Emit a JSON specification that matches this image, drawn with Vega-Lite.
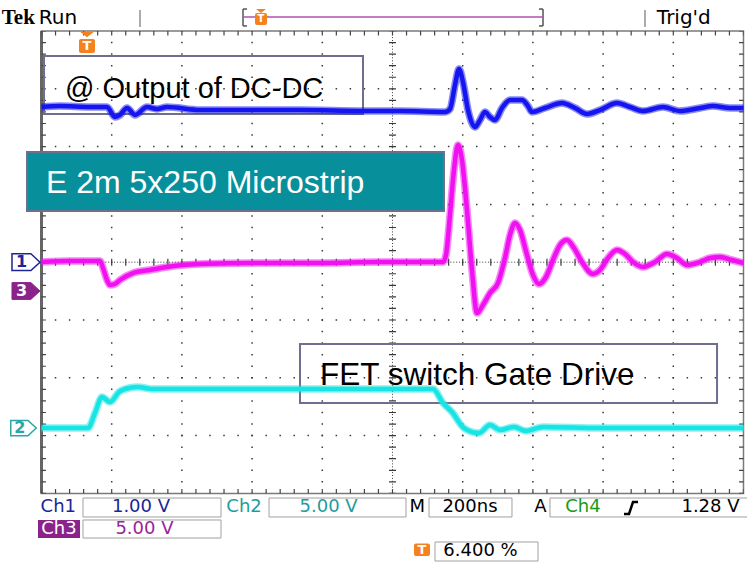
{
"$schema": "https://vega.github.io/schema/vega-lite/v6.json",
"width": 747, "height": 562,
"autosize": {"type": "none"},
"padding": 0,
"background": "white",
"config": {"view": {"stroke": null}},
"datasets": {
"traces": [
{"ch":"blue","t":0,"v":2.685},{"ch":"blue","t":52.7,"v":2.702},{"ch":"blue","t":138.2,"v":2.685},{"ch":"blue","t":186.6,"v":2.685},{"ch":"blue","t":209.4,"v":2.512},{"ch":"blue","t":223.6,"v":2.547},{"ch":"blue","t":243.6,"v":2.668},{"ch":"blue","t":266.4,"v":2.547},{"ch":"blue","t":300.6,"v":2.685},{"ch":"blue","t":329.1,"v":2.651},{"ch":"blue","t":357.5,"v":2.685},{"ch":"blue","t":451.6,"v":2.633},{"ch":"blue","t":594.0,"v":2.633},{"ch":"blue","t":736.5,"v":2.633},{"ch":"blue","t":916.0,"v":2.616},{"ch":"blue","t":1021.4,"v":2.616},{"ch":"blue","t":1149.6,"v":2.599},{"ch":"blue","t":1163.8,"v":2.651},{"ch":"blue","t":1178.1,"v":3.066},{"ch":"blue","t":1189.5,"v":3.343},{"ch":"blue","t":1200.8,"v":3.118},{"ch":"blue","t":1215.1,"v":2.633},{"ch":"blue","t":1235.0,"v":2.339},{"ch":"blue","t":1249.3,"v":2.46},{"ch":"blue","t":1263.5,"v":2.599},{"ch":"blue","t":1277.8,"v":2.512},{"ch":"blue","t":1292.0,"v":2.46},{"ch":"blue","t":1312.0,"v":2.668},{"ch":"blue","t":1334.8,"v":2.806},{"ch":"blue","t":1368.9,"v":2.806},{"ch":"blue","t":1386.0,"v":2.702},{"ch":"blue","t":1397.4,"v":2.599},{"ch":"blue","t":1434.5,"v":2.668},{"ch":"blue","t":1482.9,"v":2.754},{"ch":"blue","t":1520.0,"v":2.668},{"ch":"blue","t":1554.1,"v":2.564},{"ch":"blue","t":1591.2,"v":2.633},{"ch":"blue","t":1639.6,"v":2.754},{"ch":"blue","t":1676.6,"v":2.685},{"ch":"blue","t":1713.7,"v":2.616},{"ch":"blue","t":1770.7,"v":2.685},{"ch":"blue","t":1819.1,"v":2.616},{"ch":"blue","t":1876.1,"v":2.668},{"ch":"blue","t":1913.1,"v":2.702},{"ch":"blue","t":1961.5,"v":2.668},{"ch":"blue","t":2000,"v":2.668},
{"ch":"mag","t":0,"v":0.003},{"ch":"mag","t":81.2,"v":0.021},{"ch":"mag","t":166.7,"v":0.021},{"ch":"mag","t":175.2,"v":-0.1},{"ch":"mag","t":186.6,"v":-0.308},{"ch":"mag","t":195.2,"v":-0.394},{"ch":"mag","t":209.4,"v":-0.377},{"ch":"mag","t":223.6,"v":-0.308},{"ch":"mag","t":260.7,"v":-0.187},{"ch":"mag","t":309.1,"v":-0.135},{"ch":"mag","t":357.5,"v":-0.083},{"ch":"mag","t":403.1,"v":-0.048},{"ch":"mag","t":451.6,"v":-0.031},{"ch":"mag","t":622.5,"v":-0.014},{"ch":"mag","t":793.4,"v":-0.014},{"ch":"mag","t":964.4,"v":0.003},{"ch":"mag","t":1143.9,"v":0.003},{"ch":"mag","t":1152.4,"v":0.125},{"ch":"mag","t":1163.8,"v":0.817},{"ch":"mag","t":1175.2,"v":1.595},{"ch":"mag","t":1186.6,"v":2.028},{"ch":"mag","t":1198.0,"v":1.768},{"ch":"mag","t":1212.2,"v":0.903},{"ch":"mag","t":1226.5,"v":-0.135},{"ch":"mag","t":1240.7,"v":-0.879},{"ch":"mag","t":1257.8,"v":-0.74},{"ch":"mag","t":1277.8,"v":-0.533},{"ch":"mag","t":1300.6,"v":-0.36},{"ch":"mag","t":1320.5,"v":0.073},{"ch":"mag","t":1334.8,"v":0.471},{"ch":"mag","t":1349.0,"v":0.678},{"ch":"mag","t":1363.3,"v":0.557},{"ch":"mag","t":1383.2,"v":0.125},{"ch":"mag","t":1400.3,"v":-0.221},{"ch":"mag","t":1417.4,"v":-0.377},{"ch":"mag","t":1437.3,"v":-0.256},{"ch":"mag","t":1457.3,"v":0.038},{"ch":"mag","t":1477.2,"v":0.298},{"ch":"mag","t":1497.1,"v":0.384},{"ch":"mag","t":1517.1,"v":0.246},{"ch":"mag","t":1539.9,"v":0.003},{"ch":"mag","t":1571.2,"v":-0.204},{"ch":"mag","t":1591.2,"v":-0.135},{"ch":"mag","t":1614.0,"v":0.073},{"ch":"mag","t":1639.6,"v":0.211},{"ch":"mag","t":1662.4,"v":0.142},{"ch":"mag","t":1685.2,"v":0.003},{"ch":"mag","t":1713.7,"v":-0.083},{"ch":"mag","t":1747.9,"v":0.003},{"ch":"mag","t":1782.0,"v":0.142},{"ch":"mag","t":1810.5,"v":0.073},{"ch":"mag","t":1839.0,"v":-0.048},{"ch":"mag","t":1876.1,"v":0.003},{"ch":"mag","t":1904.6,"v":0.073},{"ch":"mag","t":1933.0,"v":0.09},{"ch":"mag","t":1967.2,"v":0.038},{"ch":"mag","t":2000,"v":-0.014},
{"ch":"cyan","t":0,"v":-2.869},{"ch":"cyan","t":132.5,"v":-2.869},{"ch":"cyan","t":152.4,"v":-2.609},{"ch":"cyan","t":172.4,"v":-2.332},{"ch":"cyan","t":195.2,"v":-2.419},{"ch":"cyan","t":220.8,"v":-2.246},{"ch":"cyan","t":249.3,"v":-2.176},{"ch":"cyan","t":274.9,"v":-2.159},{"ch":"cyan","t":314.8,"v":-2.194},{"ch":"cyan","t":451.6,"v":-2.194},{"ch":"cyan","t":736.5,"v":-2.194},{"ch":"cyan","t":1115.4,"v":-2.194},{"ch":"cyan","t":1143.9,"v":-2.436},{"ch":"cyan","t":1169.5,"v":-2.592},{"ch":"cyan","t":1203.7,"v":-2.869},{"ch":"cyan","t":1246.4,"v":-2.955},{"ch":"cyan","t":1277.8,"v":-2.817},{"ch":"cyan","t":1306.3,"v":-2.903},{"ch":"cyan","t":1346.2,"v":-2.851},{"ch":"cyan","t":1380.3,"v":-2.92},{"ch":"cyan","t":1428.8,"v":-2.851},{"ch":"cyan","t":1591.2,"v":-2.869},{"ch":"cyan","t":2000,"v":-2.869}
],
"gridV": [{"t":200,"v":-4,"v2":4},{"t":400,"v":-4,"v2":4},{"t":600,"v":-4,"v2":4},{"t":800,"v":-4,"v2":4},{"t":1200,"v":-4,"v2":4},{"t":1400,"v":-4,"v2":4},{"t":1600,"v":-4,"v2":4},{"t":1800,"v":-4,"v2":4}],
"gridH": [{"t":0,"t2":2000,"v":-3},{"t":0,"t2":2000,"v":-2},{"t":0,"t2":2000,"v":-1},{"t":0,"t2":2000,"v":1},{"t":0,"t2":2000,"v":2},{"t":0,"t2":2000,"v":3}],
"centerV": [{"t":1000,"v":-4,"v2":4}],
"centerH": [{"t":0,"t2":2000,"v":0}],
"frame": [{"t":0,"t2":2000,"v":-4,"v2":4}],
"frameL": [{"t":0,"v":-4,"v2":4}],
"edgeH": [{"t":0,"t2":2000,"v":3.962},{"t":0,"t2":2000,"v":-3.962}],
"edgeV": [{"t":6.27,"v":-4,"v2":4},{"t":1993.7,"v":-4,"v2":4}],
"boxOpen": [{"t":7.1,"t2":916.0,"v":3.567,"v2":2.564},{"t":736.5,"t2":1924.6,"v":-1.415,"v2":-2.436}],
"boxTeal": [{"t":-41.3,"t2":1146.7,"v":1.907,"v2":0.886}],
"lblDC": [{"t":67.0,"v":2.841,"label":"@ Output of DC-DC"}],
"lblFET": [{"t":793.4,"v":-2.125,"label":"FET switch Gate Drive"}],
"lblMS": [{"t":12.8,"v":1.197,"label":"E 2m 5x250 Microstrip"}],
"hdrTek": [{"t":-66.0,"v":4.121,"label":"Tek"}],
"hdrText": [{"t":47.0,"v":4.121,"label":"Run"},{"t":1830.0,"v":4.121,"label":"Trig'd"}],
"hdrSep": [{"t":280.6,"v":4.363,"v2":4.069},{"t":1719.4,"v":4.363,"v2":4.069}],
"hdrBracket": [{"t":574.1,"v":4.38,"v2":4.087},{"t":1428.8,"v":4.38,"v2":4.087}],
"hdrSerif": [{"t":574.1,"t2":585.5,"v":4.38},{"t":574.1,"t2":585.5,"v":4.087},{"t":1417.4,"t2":1428.8,"v":4.38},{"t":1417.4,"t2":1428.8,"v":4.087}],
"hdrLine": [{"t":574.1,"t2":1428.8,"v":4.242}],
"tBody": [{"t":608.3,"t2":642.5,"v":4.311,"v2":4.104},{"t":106.8,"t2":152.4,"v":3.862,"v2":3.619},{"t":1061.2,"t2":1106.8,"v":-4.866,"v2":-5.083}],
"tTriSmall": [{"t":625.4,"v":4.346}],
"tTriBig": [{"t":129.6,"v":3.939}],
"tGlyphSmall": [{"t":625.4,"v":4.208,"label":"T"}],
"tGlyph": [{"t":129.6,"v":3.74,"label":"T"},{"t":1084.0,"v":-4.975,"label":"T"}],
"mk1": [{"t":-44.2,"v":0.0}],
"mk3": [{"t":-44.2,"v":-0.498}],
"mk2": [{"t":-51.3,"v":-2.869}],
"mk1t": [{"t":-57.0,"v":0.0,"label":"1"}],
"mk3t": [{"t":-57.0,"v":-0.498,"label":"3"}],
"mk2t": [{"t":-62.0,"v":-2.869,"label":"2"}],
"ftBox": [{"t":118.2,"t2":511.4,"v":-4.08,"v2":-4.408},{"t":648.2,"t2":1038.5,"v":-4.08,"v2":-4.408},{"t":1104.0,"t2":1340.4,"v":-4.08,"v2":-4.408},{"t":1448.7,"t2":2030,"v":-4.08,"v2":-4.408},{"t":118.2,"t2":511.4,"v":-4.46,"v2":-4.772},{"t":1121.1,"t2":1414.5,"v":-4.841,"v2":-5.17}],
"ftCh3Box": [{"t":-10.0,"t2":109.7,"v":-4.46,"v2":-4.772}],
"ftNavy": [{"t":47.9,"v":-4.235,"label":"Ch1"},{"t":283.5,"v":-4.235,"label":"1.00 V"}],
"ftTeal": [{"t":577.0,"v":-4.235,"label":"Ch2"},{"t":817.9,"v":-4.235,"label":"5.00 V"}],
"ftBlack": [{"t":1070.9,"v":-4.235,"label":"M"},{"t":1220.8,"v":-4.235,"label":"200ns"},{"t":1421.6,"v":-4.235,"label":"A"},{"t":1906.0,"v":-4.235,"label":"1.28 V"},{"t":1250.7,"v":-4.997,"label":"6.400 %"}],
"ftGreen": [{"t":1542.4,"v":-4.235,"label":"Ch4"}],
"ftWhite": [{"t":49.9,"v":-4.616,"label":"Ch3"}],
"ftPurple": [{"t":293.4,"v":-4.616,"label":"5.00 V"}],
"ftEdge": [{"t":1659.5,"v":-4.356},{"t":1673.8,"v":-4.356},{"t":1685.2,"v":-4.149},{"t":1699.5,"v":-4.149}]
},
"encoding": {
"x": {"field": "t", "type": "quantitative", "scale": {"domain": [-118.234, 2009.972], "nice": false, "zero": false}, "axis": null},
"y": {"field": "v", "type": "quantitative", "scale": {"domain": [-5.18685, 4.53633], "nice": false, "zero": false}, "axis": null}
},
"layer": [
{"data": {"name": "gridV"}, "mark": {"type": "rule", "color": "#3a3a3a", "strokeWidth": 1.5, "strokeDash": [1.5, 10.06], "strokeDashOffset": 0.75}, "encoding": {"y2": {"field": "v2"}}},
{"data": {"name": "gridH"}, "mark": {"type": "rule", "color": "#3a3a3a", "strokeWidth": 1.5, "strokeDash": [1.5, 12.54], "strokeDashOffset": 0.75}, "encoding": {"x2": {"field": "t2"}}},
{"data": {"name": "centerV"}, "mark": {"type": "rule", "color": "#3a3a3a", "strokeWidth": 1, "strokeDash": [1, 1.9]}, "encoding": {"y2": {"field": "v2"}}},
{"data": {"name": "centerH"}, "mark": {"type": "rule", "color": "#3a3a3a", "strokeWidth": 1, "strokeDash": [1, 1.9]}, "encoding": {"x2": {"field": "t2"}}},
{"data": {"name": "centerV"}, "mark": {"type": "rule", "color": "#3a3a3a", "strokeWidth": 7, "strokeDash": [1.2, 10.36], "strokeDashOffset": 0.6}, "encoding": {"y2": {"field": "v2"}}},
{"data": {"name": "centerH"}, "mark": {"type": "rule", "color": "#3a3a3a", "strokeWidth": 7, "strokeDash": [1.2, 12.84], "strokeDashOffset": 0.6}, "encoding": {"x2": {"field": "t2"}}},
{"data": {"name": "frame"}, "mark": {"type": "rect", "fill": "white", "fillOpacity": 0, "stroke": "#7a7a7a", "strokeWidth": 1.5}, "encoding": {"x2": {"field": "t2"}, "y2": {"field": "v2"}}},
{"data": {"name": "frameL"}, "mark": {"type": "rule", "color": "#666666", "strokeWidth": 3}, "encoding": {"y2": {"field": "v2"}}},
{"data": {"name": "edgeH"}, "mark": {"type": "rule", "color": "#444444", "strokeWidth": 4.5, "strokeDash": [1.2, 12.84], "strokeDashOffset": 0.6}, "encoding": {"x2": {"field": "t2"}}},
{"data": {"name": "edgeV"}, "mark": {"type": "rule", "color": "#444444", "strokeWidth": 4.5, "strokeDash": [1.2, 10.36], "strokeDashOffset": 0.6}, "encoding": {"y2": {"field": "v2"}}},
{"data": {"name": "boxOpen"}, "mark": {"type": "rect", "fill": "white", "fillOpacity": 0, "stroke": "#6e6e8e", "strokeWidth": 2}, "encoding": {"x2": {"field": "t2"}, "y2": {"field": "v2"}}},
{"data": {"name": "boxTeal"}, "mark": {"type": "rect", "fill": "#07909b", "stroke": "#6e6e8e", "strokeWidth": 2}, "encoding": {"x2": {"field": "t2"}, "y2": {"field": "v2"}}},
{"data": {"name": "traces"}, "mark": {"type": "line", "strokeWidth": 7.5, "opacity": 0.5, "interpolate": "monotone"}, "encoding": {"color": {"field": "ch", "type": "nominal", "scale": {"domain": ["blue", "mag", "cyan"], "range": ["#1515f0", "#f010f0", "#18e4e4"]}, "legend": null}}},
{"data": {"name": "traces"}, "mark": {"type": "line", "strokeWidth": 4.5, "interpolate": "monotone"}, "encoding": {"color": {"field": "ch", "type": "nominal", "scale": {"domain": ["blue", "mag", "cyan"], "range": ["#1515f0", "#f010f0", "#18e4e4"]}, "legend": null}}},
{"data": {"name": "lblDC"}, "mark": {"type": "text", "align": "left", "baseline": "alphabetic", "font": "Liberation Sans", "fontSize": 29, "color": "black"}, "encoding": {"text": {"field": "label"}}},
{"data": {"name": "lblFET"}, "mark": {"type": "text", "align": "left", "baseline": "alphabetic", "font": "Liberation Sans", "fontSize": 31.5, "color": "black"}, "encoding": {"text": {"field": "label"}}},
{"data": {"name": "lblMS"}, "mark": {"type": "text", "align": "left", "baseline": "alphabetic", "font": "Liberation Sans", "fontSize": 32, "color": "white"}, "encoding": {"text": {"field": "label"}}},
{"data": {"name": "hdrTek"}, "mark": {"type": "text", "align": "center", "baseline": "alphabetic", "font": "Liberation Serif", "fontWeight": "bold", "fontSize": 21, "color": "black"}, "encoding": {"text": {"field": "label"}}},
{"data": {"name": "hdrText"}, "mark": {"type": "text", "align": "center", "baseline": "alphabetic", "font": "DejaVu Sans", "fontSize": 20, "color": "black"}, "encoding": {"text": {"field": "label"}}},
{"data": {"name": "hdrSep"}, "mark": {"type": "rule", "color": "#909090", "strokeWidth": 1.5}, "encoding": {"y2": {"field": "v2"}}},
{"data": {"name": "hdrBracket"}, "mark": {"type": "rule", "color": "#555555", "strokeWidth": 1.5}, "encoding": {"y2": {"field": "v2"}}},
{"data": {"name": "hdrSerif"}, "mark": {"type": "rule", "color": "#555555", "strokeWidth": 1.5}, "encoding": {"x2": {"field": "t2"}}},
{"data": {"name": "hdrLine"}, "mark": {"type": "rule", "color": "#b050b0", "strokeWidth": 1.5}, "encoding": {"x2": {"field": "t2"}}},
{"data": {"name": "tBody"}, "mark": {"type": "rect", "fill": "#f5821f", "cornerRadius": 2}, "encoding": {"x2": {"field": "t2"}, "y2": {"field": "v2"}}},
{"data": {"name": "tTriSmall"}, "mark": {"type": "point", "shape": "M-1,-0.4L1,-0.4L0,0.4Z", "filled": true, "color": "#f5821f", "opacity": 1, "size": 100}},
{"data": {"name": "tTriBig"}, "mark": {"type": "point", "shape": "M-1,-0.4L1,-0.4L0,0.4Z", "filled": true, "color": "#f5821f", "opacity": 1, "size": 196}},
{"data": {"name": "tGlyphSmall"}, "mark": {"type": "text", "align": "center", "baseline": "middle", "font": "DejaVu Sans", "fontWeight": "bold", "fontSize": 10, "color": "white"}, "encoding": {"text": {"field": "label"}}},
{"data": {"name": "tGlyph"}, "mark": {"type": "text", "align": "center", "baseline": "middle", "font": "DejaVu Sans", "fontWeight": "bold", "fontSize": 13, "color": "white"}, "encoding": {"text": {"field": "label"}}},
{"data": {"name": "mk1"}, "mark": {"type": "point", "shape": "M-1,-0.6L0.35,-0.6L1,0L0.35,0.6L-1,0.6Z", "filled": true, "fill": "white", "stroke": "#1c2596", "strokeWidth": 1.5, "opacity": 1, "size": 784}},
{"data": {"name": "mk3"}, "mark": {"type": "point", "shape": "M-1,-0.6L0.35,-0.6L1,0L0.35,0.6L-1,0.6Z", "filled": true, "fill": "#8b238b", "stroke": "#8b238b", "strokeWidth": 1, "opacity": 1, "size": 784}},
{"data": {"name": "mk2"}, "mark": {"type": "point", "shape": "M-1,-0.6L0.35,-0.6L1,0L0.35,0.6L-1,0.6Z", "filled": true, "fill": "white", "stroke": "#2aa6a6", "strokeWidth": 1.5, "opacity": 1, "size": 650}},
{"data": {"name": "mk1t"}, "mark": {"type": "text", "align": "center", "baseline": "middle", "font": "DejaVu Sans", "fontWeight": "bold", "fontSize": 16, "color": "#1c2596"}, "encoding": {"text": {"field": "label"}}},
{"data": {"name": "mk3t"}, "mark": {"type": "text", "align": "center", "baseline": "middle", "font": "DejaVu Sans", "fontWeight": "bold", "fontSize": 16, "color": "white"}, "encoding": {"text": {"field": "label"}}},
{"data": {"name": "mk2t"}, "mark": {"type": "text", "align": "center", "baseline": "middle", "font": "DejaVu Sans", "fontWeight": "bold", "fontSize": 16, "color": "#2aa6a6"}, "encoding": {"text": {"field": "label"}}},
{"data": {"name": "ftBox"}, "mark": {"type": "rect", "fill": "white", "fillOpacity": 0, "stroke": "#a0a0a0", "strokeWidth": 1}, "encoding": {"x2": {"field": "t2"}, "y2": {"field": "v2"}}},
{"data": {"name": "ftCh3Box"}, "mark": {"type": "rect", "fill": "#8b238b"}, "encoding": {"x2": {"field": "t2"}, "y2": {"field": "v2"}}},
{"data": {"name": "ftNavy"}, "mark": {"type": "text", "align": "center", "baseline": "middle", "font": "DejaVu Sans", "fontSize": 18, "color": "#1c2596"}, "encoding": {"text": {"field": "label"}}},
{"data": {"name": "ftTeal"}, "mark": {"type": "text", "align": "center", "baseline": "middle", "font": "DejaVu Sans", "fontSize": 18, "color": "#1f9c9c"}, "encoding": {"text": {"field": "label"}}},
{"data": {"name": "ftBlack"}, "mark": {"type": "text", "align": "center", "baseline": "middle", "font": "DejaVu Sans", "fontSize": 18, "color": "black"}, "encoding": {"text": {"field": "label"}}},
{"data": {"name": "ftGreen"}, "mark": {"type": "text", "align": "center", "baseline": "middle", "font": "DejaVu Sans", "fontSize": 18, "color": "#1a9a1a"}, "encoding": {"text": {"field": "label"}}},
{"data": {"name": "ftWhite"}, "mark": {"type": "text", "align": "center", "baseline": "middle", "font": "DejaVu Sans", "fontSize": 18, "color": "white"}, "encoding": {"text": {"field": "label"}}},
{"data": {"name": "ftPurple"}, "mark": {"type": "text", "align": "center", "baseline": "middle", "font": "DejaVu Sans", "fontSize": 18, "color": "#9b239b"}, "encoding": {"text": {"field": "label"}}},
{"data": {"name": "ftEdge"}, "mark": {"type": "line", "color": "black", "strokeWidth": 2.5}}
]
}
